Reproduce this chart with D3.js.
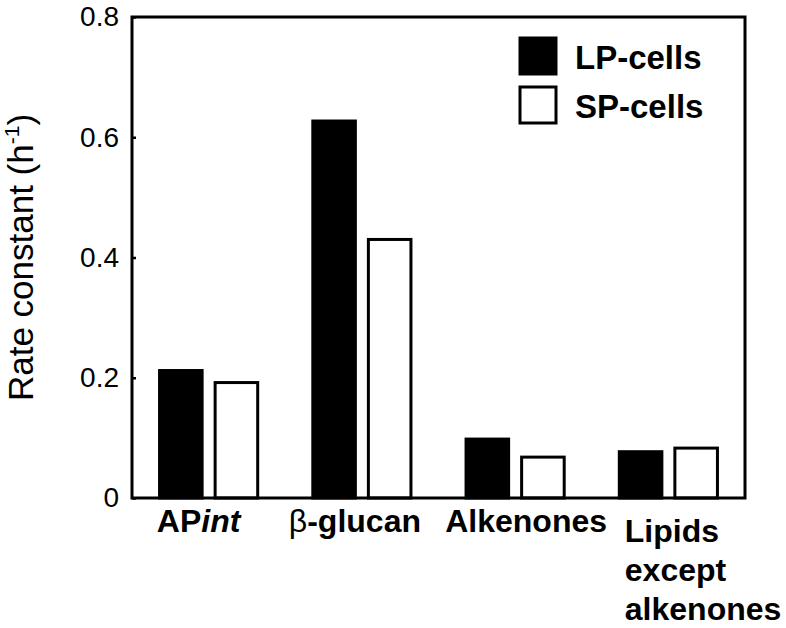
<!DOCTYPE html>
<html>
<head>
<meta charset="utf-8">
<script src="https://cdn.jsdelivr.net/npm/d3@7"></script>
<style>
  html, body { margin: 0; padding: 0; background: #fff; }
  svg { display: block; font-family: "Liberation Sans", Arial, sans-serif; }
</style>
</head>
<body>
<svg id="chart" width="786" height="628"></svg>
<script>
// ─── Data ─────────────────────────────────────────────────────
const categories = ["APint", "β-glucan", "Alkenones", "Lipids except alkenones"];
const series = ["LP-cells", "SP-cells"];
const lpValues = [0.212, 0.627, 0.098, 0.077];
const spValues = [0.192, 0.430, 0.068, 0.083];
const yTicks = [0, 0.2, 0.4, 0.6, 0.8];

// ─── Layout ───────────────────────────────────────────────────
const W = 786, H = 628;
const m = { left: 132, right: 41, top: 17, bottom: 130 };
const iw = W - m.left - m.right;
const ih = H - m.top - m.bottom;
const labelShift = [-10, -7, 11, 0];   // hand placement of category labels

const svg = d3.select("#chart");
const g = svg.append("g").attr("transform", `translate(${m.left},${m.top})`);

const x0 = d3.scaleBand().domain(categories).range([0, iw])
  .paddingInner(0.34).paddingOuter(0.17);
const x1 = d3.scaleBand().domain(series).range([0, x0.bandwidth()]).paddingInner(0.18);
const y = d3.scaleLinear().domain([0, 0.8]).range([ih, 0]);

const rows = categories.map((c, i) => ({ cat: c, vals: [lpValues[i], spValues[i]] }));

// ─── Bars ─────────────────────────────────────────────────────
const grp = g.selectAll("g.grp").data(rows).join("g")
  .attr("class", "grp")
  .attr("transform", (d) => `translate(${x0(d.cat)},0)`);

grp.selectAll("rect")
  .data((d) => d.vals.map((v, k) => ({ s: series[k], v })))
  .join("rect")
  .attr("x", (d) => x1(d.s) + 1.5)
  .attr("width", x1.bandwidth() - 3)
  .attr("y", (d) => y(d.v))
  .attr("height", (d) => ih - y(d.v))
  .attr("fill", (d) => (d.s === "LP-cells" ? "#000" : "#fff"))
  .attr("stroke", "#000")
  .attr("stroke-width", 3);

// ─── Frame + axis ─────────────────────────────────────────────
g.append("rect")
  .attr("width", iw).attr("height", ih)
  .attr("fill", "none").attr("stroke", "#000").attr("stroke-width", 3);

const yAxis = g.append("g")
  .call(d3.axisLeft(y).tickValues(yTicks).tickSize(-4).tickPadding(13)
    .tickFormat((d) => (d === 0 ? "0" : d3.format(".1f")(d))));
yAxis.select(".domain").remove();
yAxis.selectAll(".tick line").attr("stroke-width", 2.5);
yAxis.selectAll(".tick text")
  .attr("font-size", 28).attr("font-family", "Liberation Sans, Arial, sans-serif")
  .attr("fill", "#000");

// ─── Y title ──────────────────────────────────────────────────
const yt = svg.append("text")
  .attr("transform", `translate(33,${m.top + ih / 2}) rotate(-90)`)
  .attr("text-anchor", "middle")
  .attr("font-size", 35);
yt.append("tspan").text("Rate constant (h");
yt.append("tspan").attr("font-size", 21).attr("dy", -14).text("-1");
yt.append("tspan").attr("dy", 14).text(")");

// ─── Category labels ──────────────────────────────────────────
const labY = m.top + ih + 34;
categories.forEach((c, i) => {
  const cx = m.left + x0(c) + x0.bandwidth() / 2 + labelShift[i];
  const t = svg.append("text").attr("font-size", 32).attr("font-weight", "bold");
  if (c === "APint") {
    t.attr("x", cx).attr("y", labY).attr("text-anchor", "middle");
    t.append("tspan").text("AP");
    t.append("tspan").attr("font-style", "italic").text("int");
  } else if (c === "β-glucan") {
    t.attr("x", cx).attr("y", labY).attr("text-anchor", "middle");
    t.append("tspan").attr("font-weight", "normal").text("β");
    t.append("tspan").text("-glucan");
  } else if (c.startsWith("Lipids")) {
    const lx = m.left + x0(c) + 7;
    t.attr("text-anchor", "start");
    ["Lipids", "except", "alkenones"].forEach((w, k) => {
      t.append("tspan").attr("x", lx).attr("y", labY + 10 + k * 39).text(w);
    });
  } else {
    t.attr("x", cx).attr("y", labY).attr("text-anchor", "middle").text(c);
  }
});

// ─── Legend ───────────────────────────────────────────────────
const leg = svg.append("g").attr("transform", "translate(520,38)");
series.forEach((s, k) => {
  const row = leg.append("g").attr("transform", `translate(0,${k * 49})`);
  row.append("rect")
    .attr("width", 36).attr("height", 36)
    .attr("fill", k === 0 ? "#000" : "#fff")
    .attr("stroke", "#000").attr("stroke-width", 3);
  row.append("text")
    .attr("x", 55).attr("y", 31)
    .attr("font-size", 33).attr("font-weight", "bold")
    .text(s);
});
</script>
</body>
</html>
